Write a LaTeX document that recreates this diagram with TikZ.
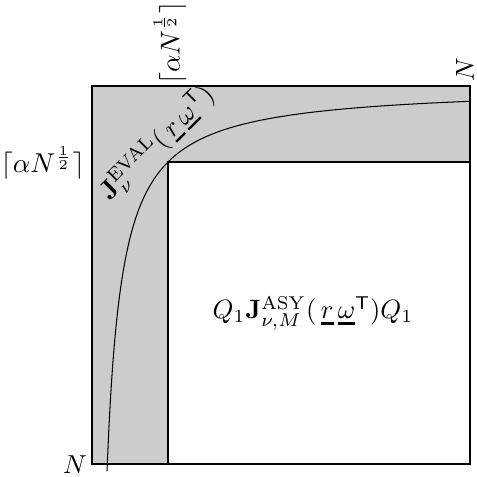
\documentclass[tikz,border=0pt]{standalone}
\usepackage{amsmath}
\newcommand{\tul}[1]{\mathord{\vtop{\halign{##\cr$#1$\cr\noalign{\kern1.3pt\hrule height0.9pt}}}}}
\begin{document}
\begin{tikzpicture}[x=0.385pt,y=-0.385pt,
  edge/.style={draw=black,line width=0.45pt},
  lbl/.style={inner sep=1pt}]
\useasboundingbox (0,0) rectangle (477,477);
\coordinate (tl) at (92,86);
\coordinate (br) at (470,464);
\coordinate (ic) at (168,162);
\fill[black!20] (tl) rectangle (br);
\fill[white] (ic) rectangle (br);
\draw[edge] (tl) rectangle (br);
\draw[edge] (168,464) -- (ic) -- (470,162);
\draw[line width=0.4pt] plot[domain=15:378,samples=200] ({92+\x},{86+5776/\x});
\node[lbl,anchor=east] (nl) at (90,465) {$N$};
\node[lbl,rotate=90] (nt) at (465,70) {$N$};
\node[lbl,anchor=east,scale=1.05] (al) at (88,163) {$\lceil\alpha N^{\frac12}\rceil$};
\node[lbl,rotate=90,scale=1.05] (at) at (170,43) {$\lceil\alpha N^{\frac12}\rceil$};
\node[lbl,rotate=45,scale=1.03] (je) at (157,143) {$\mathbf{J}_\nu^{\mathrm{EVAL}}(\,\tul{r}\,\tul{\omega}^{\mathsf{T}})$};
\node[lbl,scale=1.02] (ja) at (313,313) {$Q_1\mathbf{J}_{\nu,M}^{\mathrm{ASY}}(\,\tul{r}\,\tul{\omega}^{\mathsf{T}})Q_1$};
\end{tikzpicture}
\end{document}
